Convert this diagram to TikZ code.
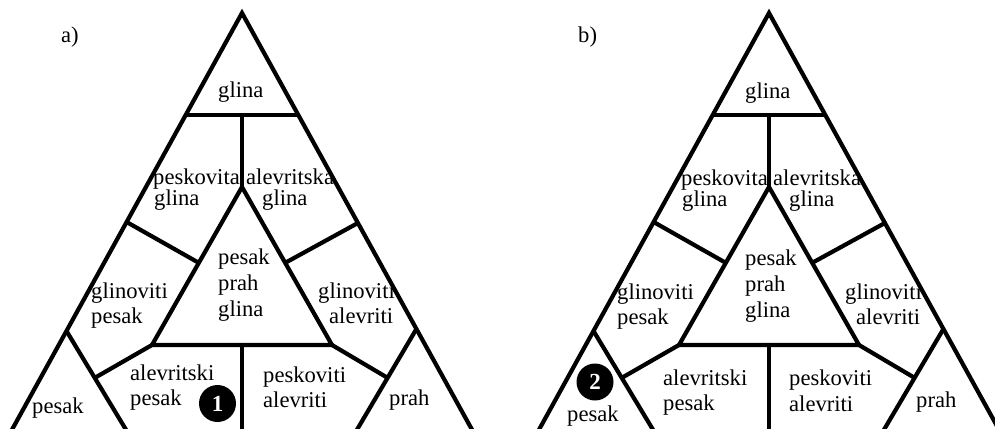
\documentclass[tikz,border=0pt]{standalone}
\usepackage{fontspec}
\setmainfont{Liberation Serif}
\usetikzlibrary{calc}

\tikzset{
  edge/.style={line width=4.2pt, line join=miter, line cap=butt},
  lbl/.style={anchor=base west, inner sep=0pt, font=\fontsize{22.6}{25}\selectfont},
  badge/.style={circle, fill=black, inner sep=0pt, minimum size=37pt,
                text=white, font=\fontsize{23}{25}\selectfont\bfseries},
}

% Frame of one classification triangle; #1 is a prefix for the coordinate names
\newcommand{\ternframe}[1]{%
  \coordinate (#1top) at (242,13);
  \coordinate (#1bl)  at (6.3,440);
  \coordinate (#1br)  at (477.7,440);
  \coordinate (#1tl)  at (185.7,115);
  \coordinate (#1tr)  at (298.3,115);
  \coordinate (#1tm)  at (242,115);
  \coordinate (#1ia)  at (242,187);
  \coordinate (#1il)  at (152,345);
  \coordinate (#1ir)  at (332,345);
  \coordinate (#1im)  at (242,345);
  \coordinate (#1imb) at (242,440);
  \coordinate (#1ml)  at (126.6,222);
  \coordinate (#1mr)  at (357.9,223);
  \coordinate (#1pl)  at (66.5,331);
  \coordinate (#1plb) at (132.2,440);
  \coordinate (#1pr)  at (416.4,329);
  \coordinate (#1prb) at (350.9,440);
  \draw[edge] (#1bl) -- (#1top) -- (#1br);
  \draw[edge] (#1tl) -- (#1tr);
  \draw[edge] (#1tm) -- (#1ia);
  \draw[edge] (#1il) -- (#1ia) -- (#1ir) -- cycle;
  \draw[edge] (#1ml) -- ($(#1ia)!0.48!(#1il)$);
  \draw[edge] (#1mr) -- ($(#1ia)!0.48!(#1ir)$);
  \draw[edge] (#1pl) -- (#1plb);
  \draw[edge] (#1pr) -- (#1prb);
  \draw[edge] (#1il) -- ($(#1pl)!0.43!(#1plb)$);
  \draw[edge] (#1ir) -- ($(#1pr)!0.44!(#1prb)$);
  \draw[edge] (#1im) -- (#1imb);
}

\begin{document}
\begin{tikzpicture}[x=1pt, y=-1pt]
  \useasboundingbox (0,0) rectangle (995,428);
  \clip (0,0) rectangle (995,428);

  % ---------- a) ----------
  \ternframe{a-}
  \node[lbl] (a-tag) at (61,43) {a)};
  \node[lbl] (a-gl) at (218,97) {glina};
  \node[lbl] (a-pg1) at (153,184) {peskovita};
  \node[lbl] (a-pg2) at (154,205) {glina};
  \node[lbl] (a-ag1) at (246,184) {alevritska};
  \node[lbl] (a-ag2) at (262,205) {glina};
  \node[lbl] (a-c1) at (218,264) {pesak};
  \node[lbl] (a-c2) at (218,290) {prah};
  \node[lbl] (a-c3) at (218,316) {glina};
  \node[lbl] (a-gp1) at (91,298) {glinoviti};
  \node[lbl] (a-gp2) at (91,323) {pesak};
  \node[lbl] (a-ga1) at (318,298) {glinoviti};
  \node[lbl] (a-ga2) at (329,323) {alevriti};
  \node[lbl] (a-ap1) at (130,380) {alevritski};
  \node[lbl] (a-ap2) at (130,405) {pesak};
  \node[lbl] (a-pa1) at (263,382) {peskoviti};
  \node[lbl] (a-pa2) at (263,407) {alevriti};
  \node[lbl] (a-pr) at (389,405) {prah};
  \node[lbl] (a-ps) at (32,413) {pesak};
  \node[badge] (a-one) at (217.5,403.5) {1};

  % ---------- b) ----------
  \begin{scope}[xshift=527pt]
    \ternframe{b-}
    \node[lbl] (b-tag) at (51,43) {b)};
    \node[lbl] (b-gl) at (218,98) {glina};
    \node[lbl] (b-pg1) at (154,185) {peskovita};
    \node[lbl] (b-pg2) at (155,206) {glina};
    \node[lbl] (b-ag1) at (246,185) {alevritska};
    \node[lbl] (b-ag2) at (262,206) {glina};
    \node[lbl] (b-c1) at (218,265) {pesak};
    \node[lbl] (b-c2) at (218,291) {prah};
    \node[lbl] (b-c3) at (218,317) {glina};
    \node[lbl] (b-gp1) at (90,299) {glinoviti};
    \node[lbl] (b-gp2) at (90,324) {pesak};
    \node[lbl] (b-ga1) at (318,299) {glinoviti};
    \node[lbl] (b-ga2) at (329,324) {alevriti};
    \node[lbl] (b-ap1) at (136,385) {alevritski};
    \node[lbl] (b-ap2) at (136,410) {pesak};
    \node[lbl] (b-pa1) at (262,385) {peskoviti};
    \node[lbl] (b-pa2) at (262,411) {alevriti};
    \node[lbl] (b-pr) at (389,407) {prah};
    \node[lbl] (b-ps) at (40,421) {pesak};
    \node[badge] (b-two) at (68,382) {2};
  \end{scope}
\end{tikzpicture}
\end{document}
